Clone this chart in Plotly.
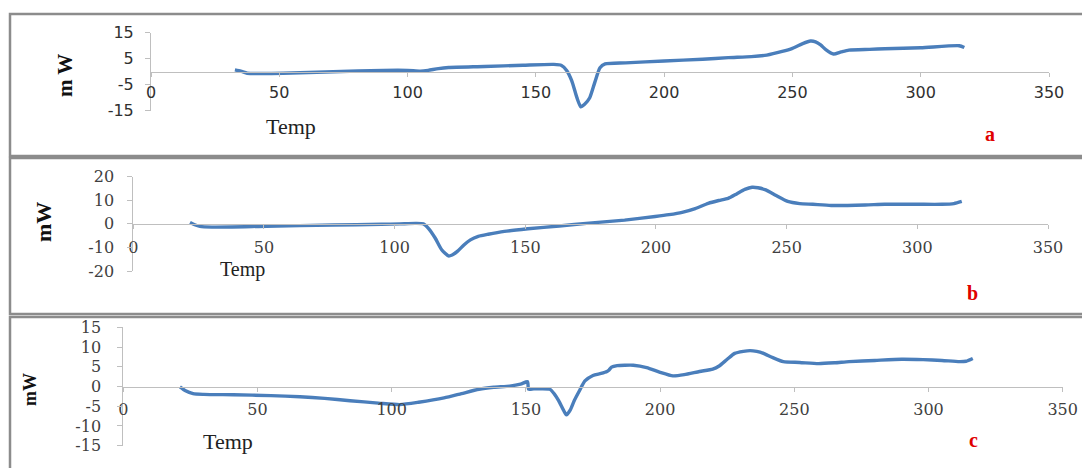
import plotly.graph_objects as go

W, H = 1090, 468
OFF = 8  # page body margin offset of the rendered figure

# ---------------- data ----------------
temp_a = [32.7, 35, 37.5, 42, 51.5, 71, 90.5, 100, 105, 108, 112, 116, 130, 145, 157, 160, 162,
          164, 166, 167.5, 169, 171, 173, 175, 177, 185, 200, 215, 225, 234, 240, 246, 250, 254,
          257, 259, 261, 263, 266, 269, 272, 280, 286, 300, 315, 317]
mw_a = [0.7, 0.2, -0.6, -0.7, -0.6, 0.0, 0.5, 0.5, 0.2, 0.5, 1.2, 1.6, 2.0, 2.5, 2.8, 2.4, 0.5,
        -3.5, -10.0, -13.5, -12.5, -10.0, -4.0, 1.5, 3.0, 3.4, 4.1, 4.8, 5.4, 5.8, 6.4, 7.8, 9.0,
        10.8, 11.8, 11.5, 10.3, 8.5, 6.8, 7.6, 8.3, 8.6, 8.8, 9.2, 10.0, 9.3]

temp_b = [21.7, 23.5, 25.5, 30, 51, 76.5, 95, 102, 108, 111, 113, 115.5, 118, 120.6, 122, 124,
          126.5, 129, 132, 135.8, 142, 151, 163, 174.4, 188, 199.7, 205, 210, 215, 220, 224,
          227.6, 231, 234, 236.8, 239, 242, 246, 250.4, 255, 260, 267, 280, 287.5, 300, 309.4,
          314, 317]
mw_b = [0.6, -0.4, -1.1, -1.4, -1.0, -0.5, -0.2, 0.0, 0.2, 0.0, -2.0, -6.0, -11.0, -13.6, -13.2,
        -11.7, -9.0, -6.8, -5.3, -4.4, -3.2, -2.1, -0.9, 0.3, 1.6, 3.1, 3.9, 4.9, 6.5, 8.7, 9.9,
        10.8, 12.8, 14.6, 15.5, 15.3, 14.4, 12.0, 9.5, 8.6, 8.3, 7.8, 8.0, 8.3, 8.3, 8.3, 8.6, 9.5]

temp_c = [21.1, 23, 26, 30, 41, 55, 65.8, 75, 84.5, 95, 103, 110, 119.5, 126, 132.5, 138, 144,
          148, 150.6, 151, 153, 158.9, 160.5, 162.2, 164, 165.1, 166.5, 168, 170, 172, 175, 178,
          180.2, 181, 181.9, 184, 186.8, 190, 195, 200, 204.8, 209, 214.7, 219.6, 222, 225,
          227.8, 231, 233.5, 236, 238.5, 242, 245.9, 252, 259, 265, 270.4, 280, 290, 298, 305,
          311.5, 314, 316.5]
mw_c = [-0.1, -1.0, -1.8, -2.0, -2.1, -2.3, -2.6, -3.0, -3.6, -4.2, -4.6, -4.0, -2.9, -1.8, -0.7,
        -0.2, 0.1, 0.6, 1.2, -0.7, -0.6, -0.7, -1.8, -3.6, -6.0, -7.2, -6.0, -3.6, -1.0, 1.4, 2.8,
        3.3, 3.8, 4.2, 4.9, 5.3, 5.4, 5.4, 4.8, 3.6, 2.7, 3.0, 3.8, 4.4, 5.2, 6.9, 8.4, 8.9, 9.1,
        8.9, 8.4, 7.3, 6.3, 6.1, 5.8, 6.0, 6.3, 6.6, 6.9, 6.8, 6.6, 6.3, 6.4, 7.1]

x_ticks = [0, 50, 100, 150, 200, 250, 300, 350]
y_ticks_a = [-15, -5, 5, 15]
y_ticks_b = [-20, -10, 0, 10, 20]
y_ticks_c = [-15, -10, -5, 0, 5, 10, 15]
panel_labels = ["a", "b", "c"]
y_titles = ["m W", "mW", "mW"]
x_title = "Temp"


def px(x):
    return (x - OFF) / W


def py(y):
    return 1 - (y - OFF) / H


LINE = "#4a7ebb"
AXIS = "#bfbfbf"

panels = [
    dict(xl=151, xr=1049, yt=32.7, yb=110.7, yr=[-15, 15], yt_vals=y_ticks_a,
         tfont=dict(family="DejaVu Sans", size=16, color="#303030"), ysoff=8, xsoff=2,
         x=temp_a, y=mw_a),
    dict(xl=133.3, xr=1048, yt=176.7, yb=271, yr=[-20, 20], yt_vals=y_ticks_b,
         tfont=dict(family="DejaVu Serif", size=16, color="#404040"), ysoff=10, xsoff=5,
         x=temp_b, y=mw_b),
    dict(xl=123.3, xr=1062.7, yt=327.3, yb=445.7, yr=[-15, 15], yt_vals=y_ticks_c,
         tfont=dict(family="DejaVu Serif", size=16, color="#404040"), ysoff=13, xsoff=4,
         x=temp_c, y=mw_c),
]

fig = go.Figure()
layout = dict(
    template="none",
    width=W, height=H,
    margin=dict(l=0, r=0, t=0, b=0, pad=0, autoexpand=False),
    paper_bgcolor="white", plot_bgcolor="white",
    showlegend=False,
)

for i, p in enumerate(panels, start=1):
    xa = "xaxis" if i == 1 else f"xaxis{i}"
    ya = "yaxis" if i == 1 else f"yaxis{i}"
    xr = "x" if i == 1 else f"x{i}"
    yr = "y" if i == 1 else f"y{i}"
    ydom = [py(p["yb"]), py(p["yt"])]
    fig.add_trace(go.Scatter(x=p["x"], y=p["y"], mode="lines", xaxis=xr, yaxis=yr,
                             line=dict(color=LINE, width=3.4, shape="spline", smoothing=0.6),
                             hoverinfo="skip"))
    layout[xa] = dict(domain=[px(p["xl"]), px(p["xr"])], range=[0, 350], anchor="free",
                      position=(ydom[0] + ydom[1]) / 2, tickvals=x_ticks,
                      ticktext=[str(v) for v in x_ticks], automargin=False,
                      showline=True, linecolor=AXIS, linewidth=1, showgrid=False,
                      zeroline=False, ticks="outside", ticklen=4, tickcolor=AXIS,
                      tickfont=p["tfont"], ticklabelstandoff=p["xsoff"])
    layout[ya] = dict(domain=ydom, range=p["yr"], anchor=xr, tickvals=p["yt_vals"],
                      ticktext=[str(v) for v in p["yt_vals"]], automargin=False,
                      showline=True, linecolor=AXIS, linewidth=1, showgrid=False,
                      zeroline=False, ticks="outside", ticklen=5, tickcolor=AXIS,
                      tickfont=p["tfont"], ticklabelstandoff=p["ysoff"])

fig.update_layout(**layout)

# panel frames
frames = [(10, 14, 1089, 156), (10, 158, 1089, 314), (10, 317, 1089, 472)]
for (x0, y0, x1, y1) in frames:
    fig.add_shape(type="rect", xref="paper", yref="paper",
                  x0=px(x0), x1=px(x1), y0=py(y1), y1=py(y0),
                  line=dict(color="#8c8c8c", width=2.5), fillcolor="rgba(0,0,0,0)")

ann = [
    (y_titles[0], 65, 76, -90, dict(family="Liberation Serif", size=21, color="#111111"), True),
    (x_title, 291, 126, 0, dict(family="Liberation Serif", size=22, color="#222222"), False),
    (panel_labels[0], 990, 134, 0, dict(family="Liberation Serif", size=20, color="#e00000"), True),
    (y_titles[1], 44, 222, -90, dict(family="Liberation Serif", size=22, color="#111111"), True),
    (x_title, 242, 269, 0, dict(family="Liberation Serif", size=20, color="#222222"), False),
    (panel_labels[1], 972, 293, 0, dict(family="Liberation Serif", size=20, color="#e00000"), True),
    (y_titles[2], 30, 390, -90, dict(family="Liberation Serif", size=18, color="#111111"), True),
    (x_title, 228, 441, 0, dict(family="Liberation Serif", size=22, color="#222222"), False),
    (panel_labels[2], 973, 440, 0, dict(family="Liberation Serif", size=20, color="#e00000"), True),
]
for text, x, y, ang, font, bold in ann:
    fig.add_annotation(text=f"<b>{text}</b>" if bold else text, xref="paper", yref="paper",
                       x=px(x), y=py(y), xanchor="center", yanchor="middle",
                       textangle=ang, showarrow=False, font=font)

fig.write_html("out.html")
